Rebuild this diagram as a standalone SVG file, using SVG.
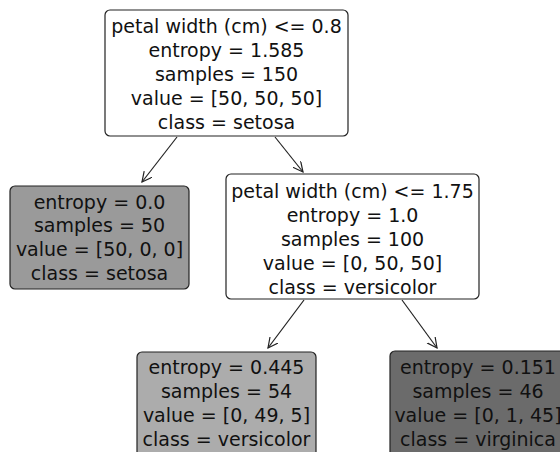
<svg xmlns="http://www.w3.org/2000/svg" width="560" height="452" viewBox="0 0 560 452">
  <defs>
    <marker id="arrow" markerWidth="12" markerHeight="12" refX="10" refY="5" orient="auto" markerUnits="userSpaceOnUse">
      <path d="M0,0 L10,5 L0,10" fill="none" stroke="#222" stroke-width="1.2"/>
    </marker>
    <style>
      .box { stroke: #222; stroke-width: 1.2; }
      .lbl { font-family: "DejaVu Sans", sans-serif; font-size: 19px; fill: #111; text-anchor: middle; dominant-baseline: central; }
      .edge { stroke: #222; stroke-width: 1.2; fill: none; marker-end: url(#arrow); }
    </style>
  </defs>
  <rect width="560" height="452" fill="#ffffff"/>

  <g id="connectors">
    <line class="edge" x1="177" y1="137" x2="142" y2="182"/>
    <line class="edge" x1="275" y1="137" x2="303" y2="172"/>
    <line class="edge" x1="304" y1="300" x2="268" y2="348"/>
    <line class="edge" x1="402" y1="300" x2="437" y2="348"/>
  </g>

  <g id="root">
    <rect class="box" x="105" y="10" width="243" height="126" rx="5" fill="#ffffff"/>
    <text class="lbl" x="226.5" y="26">petal width (cm) &lt;= 0.8</text>
    <text class="lbl" x="226.5" y="50">entropy = 1.585</text>
    <text class="lbl" x="226.5" y="74">samples = 150</text>
    <text class="lbl" x="226.5" y="98">value = [50, 50, 50]</text>
    <text class="lbl" x="226.5" y="122">class = setosa</text>
  </g>

  <g id="leaf-setosa">
    <rect class="box" x="10" y="186" width="179" height="103" rx="5" fill="#9a9a9a"/>
    <text class="lbl" x="99.5" y="202">entropy = 0.0</text>
    <text class="lbl" x="99.5" y="225">samples = 50</text>
    <text class="lbl" x="99.5" y="249">value = [50, 0, 0]</text>
    <text class="lbl" x="99.5" y="273">class = setosa</text>
  </g>

  <g id="split-1-75">
    <rect class="box" x="226" y="174" width="253" height="125" rx="5" fill="#ffffff"/>
    <text class="lbl" x="352.5" y="191">petal width (cm) &lt;= 1.75</text>
    <text class="lbl" x="352.5" y="215">entropy = 1.0</text>
    <text class="lbl" x="352.5" y="239">samples = 100</text>
    <text class="lbl" x="352.5" y="263">value = [0, 50, 50]</text>
    <text class="lbl" x="352.5" y="287">class = versicolor</text>
  </g>

  <g id="leaf-versicolor">
    <rect class="box" x="137" y="352" width="179" height="110" rx="5" fill="#acacac"/>
    <text class="lbl" x="226.5" y="367">entropy = 0.445</text>
    <text class="lbl" x="226.5" y="391">samples = 54</text>
    <text class="lbl" x="226.5" y="415">value = [0, 49, 5]</text>
    <text class="lbl" x="226.5" y="439">class = versicolor</text>
  </g>

  <g id="leaf-virginica">
    <rect class="box" x="390" y="351" width="179" height="111" rx="5" fill="#6b6b6b"/>
    <text class="lbl" x="478" y="367">entropy = 0.151</text>
    <text class="lbl" x="478" y="391">samples = 46</text>
    <text class="lbl" x="478" y="415">value = [0, 1, 45]</text>
    <text class="lbl" x="478" y="439">class = virginica</text>
  </g>
</svg>
